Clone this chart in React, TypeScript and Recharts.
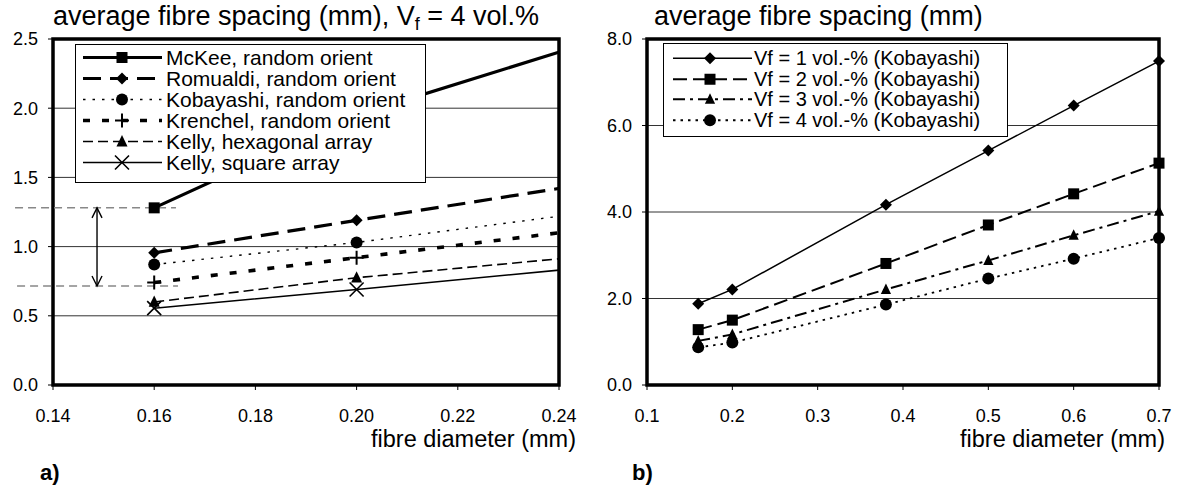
import React from "react";
import {
  LineChart,
  Line,
  XAxis,
  YAxis,
  CartesianGrid,
  ReferenceArea,
  ReferenceLine,
} from "recharts";

// a) Vf = 4 vol.% -- points beyond 0.24 mm are clipped by the axis
const leftDiameters = [0.16, 0.2, 0.38];
const mckee = [1.28, 1.95, 4.0];
const romualdi = [0.955, 1.19, 2.225];
const kobayashiRandom = [0.87, 1.03, 1.88];
const krenchel = [0.74, 0.92, 1.73];
const kellyHex = [0.6, 0.775, 1.39];
const kellySquare = [0.555, 0.69, 1.32];

// b) Kobayashi for several fibre contents
const rightDiameters = [0.16, 0.2, 0.38, 0.5, 0.6, 0.7];
const vf1 = [1.88, 2.21, 4.17, 5.42, 6.46, 7.49];
const vf2 = [1.28, 1.5, 2.81, 3.7, 4.42, 5.13];
const vf3 = [1.02, 1.17, 2.21, 2.88, 3.46, 4.02];
const vf4 = [0.87, 0.98, 1.86, 2.46, 2.92, 3.4];

const leftXTicks = [0.14, 0.16, 0.18, 0.2, 0.22, 0.24];
const leftYTicks = [0, 0.5, 1, 1.5, 2, 2.5];
const rightXTicks = [0.1, 0.2, 0.3, 0.4, 0.5, 0.6, 0.7];
const rightYTicks = [0, 2, 4, 6, 8];

// spread marked on the left chart (McKee vs Krenchel at 0.16 mm)
const spanHigh = 1.28;
const spanLow = 0.715;

const FONT = "'Liberation Sans', Arial, Helvetica, sans-serif";

type Shape = "square" | "diamond" | "circle" | "plus" | "triangle" | "cross";

type Series = {
  key: string;
  name: string;
  values: number[];
  width: number;
  dash?: string;
  marker: Shape;
  size: number;
};

const leftSeries: Series[] = [
  { key: "mckee", name: "McKee, random orient", values: mckee, width: 3.2, marker: "square", size: 11 },
  { key: "romualdi", name: "Romualdi, random orient", values: romualdi, width: 3.2, dash: "18 9", marker: "diamond", size: 12 },
  { key: "kobayashi", name: "Kobayashi, random orient", values: kobayashiRandom, width: 1.4, dash: "2.5 7", marker: "circle", size: 12 },
  { key: "krenchel", name: "Krenchel, random orient", values: krenchel, width: 3.6, dash: "7 12", marker: "plus", size: 14 },
  { key: "kellyHex", name: "Kelly, hexagonal array", values: kellyHex, width: 1.6, dash: "10 5", marker: "triangle", size: 13 },
  { key: "kellySq", name: "Kelly, square array", values: kellySquare, width: 1.6, marker: "cross", size: 14 },
];

const rightSeries: Series[] = [
  { key: "vf1", name: "Vf = 1 vol.-% (Kobayashi)", values: vf1, width: 1.5, marker: "diamond", size: 12 },
  { key: "vf2", name: "Vf = 2 vol.-% (Kobayashi)", values: vf2, width: 2, dash: "14 6", marker: "square", size: 11 },
  { key: "vf3", name: "Vf = 3 vol.-% (Kobayashi)", values: vf3, width: 2, dash: "12 5 3 5", marker: "triangle", size: 12 },
  { key: "vf4", name: "Vf = 4 vol.-% (Kobayashi)", values: vf4, width: 1.8, dash: "2.5 5", marker: "circle", size: 12 },
];

const leftData = leftDiameters.map((d, i) => {
  const row: Record<string, number> = { d };
  leftSeries.forEach((s) => (row[s.key] = s.values[i]));
  return row;
});

const rightData = rightDiameters.map((d, i) => {
  const row: Record<string, number> = { d };
  rightSeries.forEach((s) => (row[s.key] = s.values[i]));
  return row;
});

const Marker = ({ cx, cy, shape, size }: { cx: number; cy: number; shape: Shape; size: number }) => {
  const h = size / 2;
  switch (shape) {
    case "square":
      return <rect x={cx - h} y={cy - h} width={size} height={size} fill="#000" />;
    case "diamond":
      return (
        <polygon
          points={`${cx},${cy - h} ${cx + h},${cy} ${cx},${cy + h} ${cx - h},${cy}`}
          fill="#000"
        />
      );
    case "circle":
      return <circle cx={cx} cy={cy} r={h} fill="#000" />;
    case "triangle":
      return (
        <polygon
          points={`${cx},${cy - h} ${cx + h * 0.85},${cy + h * 0.75} ${cx - h * 0.85},${cy + h * 0.75}`}
          fill="#000"
        />
      );
    case "plus":
      return (
        <path
          d={`M${cx - h},${cy}H${cx + h}M${cx},${cy - h}V${cy + h}`}
          stroke="#000"
          strokeWidth={2}
          fill="none"
        />
      );
    case "cross":
      return (
        <path
          d={`M${cx - h},${cy - h}L${cx + h},${cy + h}M${cx - h},${cy + h}L${cx + h},${cy - h}`}
          stroke="#000"
          strokeWidth={1.6}
          fill="none"
        />
      );
  }
  return null;
};

const dotFor = (s: Series) => (p: any) => {
  if (p.cx == null || p.cy == null) return <g key={`${s.key}-${p.index}`} />;
  return (
    <g key={`${s.key}-${p.index}`}>
      <Marker cx={p.cx} cy={p.cy} shape={s.marker} size={s.size} />
    </g>
  );
};

const ArrowShape = (p: any) => {
  const { x1, y1, x2, y2 } = p;
  const top = Math.min(y1, y2);
  const bottom = Math.max(y1, y2);
  const x = x1 ?? x2;
  return (
    <g stroke="#000" strokeWidth={1.4} fill="none">
      <line x1={x} y1={top} x2={x} y2={bottom} />
      <path d={`M${x - 5},${top + 10}L${x},${top}L${x + 5},${top + 10}`} />
      <path d={`M${x - 5},${bottom - 10}L${x},${bottom}L${x + 5},${bottom - 10}`} />
    </g>
  );
};

type LegendProps = {
  series: Series[];
  left: number;
  top: number;
  width: number;
  height: number;
  rowHeight: number;
  padTop: number;
  fontSize: number;
  sampleWidth: number;
  lineFrom: number;
  lineTo: number;
  markerAt: number;
};

const LegendBox = (p: LegendProps) => (
  <div
    style={{
      position: "absolute",
      left: p.left,
      top: p.top,
      width: p.width,
      height: p.height,
      boxSizing: "border-box",
      border: "1.5px solid #000",
      background: "#fff",
      paddingTop: p.padTop,
      fontFamily: FONT,
      fontSize: p.fontSize,
      color: "#000",
    }}
  >
    {p.series.map((s) => (
      <div
        key={s.key}
        style={{ display: "flex", alignItems: "center", height: p.rowHeight, whiteSpace: "nowrap" }}
      >
        <svg width={p.sampleWidth} height={p.rowHeight} style={{ flex: "none", overflow: "visible" }}>
          <line
            x1={p.lineFrom}
            x2={p.lineTo}
            y1={p.rowHeight / 2}
            y2={p.rowHeight / 2}
            stroke="#000"
            strokeWidth={s.width}
            strokeDasharray={s.dash}
          />
          <Marker cx={p.markerAt} cy={p.rowHeight / 2} shape={s.marker} size={s.size} />
        </svg>
        <span style={{ lineHeight: `${p.rowHeight}px` }}>{s.name}</span>
      </div>
    ))}
  </div>
);

const tickStyle = { fill: "#000", fontSize: 18, fontFamily: FONT };

const App = () => (
  <div style={{ position: "absolute", left: 0, top: 0, width: 1179, height: 488, background: "#fff" }}>
    <div style={{ position: "absolute", left: 0, top: 0 }}>
      <LineChart width={590} height={488} data={leftData} margin={{ top: 39, right: 31, left: 0, bottom: 73 }}>
        <CartesianGrid horizontal vertical={false} stroke="#333" />
        <XAxis
          dataKey="d"
          type="number"
          domain={[0.14, 0.24]}
          allowDataOverflow
          ticks={leftXTicks}
          interval={0}
          tickFormatter={(v: number) => v.toFixed(2)}
          axisLine={false}
          tickLine={{ stroke: "#000" }}
          tickSize={5}
          tickMargin={19}
          height={30}
          tick={tickStyle}
        />
        <YAxis
          type="number"
          domain={[0, 2.5]}
          allowDataOverflow
          ticks={leftYTicks}
          interval={0}
          tickFormatter={(v: number) => v.toFixed(1)}
          axisLine={false}
          tickLine={{ stroke: "#000" }}
          tickSize={5}
          tickMargin={10}
          width={53}
          tick={tickStyle}
        />
        <ReferenceLine
          segment={[{ x: 0.1325, y: spanHigh }, { x: 0.1643, y: spanHigh }]}
          stroke="#888"
          strokeWidth={1.5}
          strokeDasharray="8 5"
          ifOverflow="visible"
        />
        <ReferenceLine
          segment={[{ x: 0.1329, y: spanLow }, { x: 0.1647, y: spanLow }]}
          stroke="#888"
          strokeWidth={1.5}
          strokeDasharray="8 5"
          ifOverflow="visible"
        />
        <ReferenceLine
          segment={[{ x: 0.1487, y: spanLow }, { x: 0.1487, y: spanHigh }]}
          ifOverflow="visible"
          shape={ArrowShape}
        />
        {leftSeries.map((s) => (
          <Line
            key={s.key}
            dataKey={s.key}
            name={s.name}
            stroke="#000"
            strokeWidth={s.width}
            strokeDasharray={s.dash}
            dot={dotFor(s)}
            activeDot={false}
            isAnimationActive={false}
          />
        ))}
        <ReferenceArea
          x1={0.14}
          x2={0.24}
          y1={0}
          y2={2.5}
          fill="none"
          fillOpacity={0}
          stroke="#000"
          strokeWidth={3.5}
          ifOverflow="visible"
        />
      </LineChart>
    </div>

    <div style={{ position: "absolute", left: 590, top: 0 }}>
      <LineChart width={589} height={488} data={rightData} margin={{ top: 39, right: 20, left: 0, bottom: 73 }}>
        <CartesianGrid horizontal vertical={false} stroke="#333" />
        <XAxis
          dataKey="d"
          type="number"
          domain={[0.1, 0.7]}
          ticks={rightXTicks}
          interval={0}
          tickFormatter={(v: number) => v.toFixed(1)}
          axisLine={false}
          tickLine={{ stroke: "#000" }}
          tickSize={5}
          tickMargin={19}
          height={30}
          tick={tickStyle}
        />
        <YAxis
          type="number"
          domain={[0, 8]}
          ticks={rightYTicks}
          interval={0}
          tickFormatter={(v: number) => v.toFixed(1)}
          axisLine={false}
          tickLine={{ stroke: "#000" }}
          tickSize={5}
          tickMargin={10}
          width={57}
          tick={tickStyle}
        />
        <ReferenceArea
          x1={0.1}
          x2={0.7}
          y1={0}
          y2={8}
          fill="none"
          fillOpacity={0}
          stroke="#000"
          strokeWidth={3.5}
          ifOverflow="visible"
        />
        {rightSeries.map((s) => (
          <Line
            key={s.key}
            dataKey={s.key}
            name={s.name}
            stroke="#000"
            strokeWidth={s.width}
            strokeDasharray={s.dash}
            dot={dotFor(s)}
            activeDot={false}
            isAnimationActive={false}
          />
        ))}
      </LineChart>
    </div>

    <LegendBox
      series={leftSeries}
      left={75}
      top={44}
      width={351}
      height={139}
      rowHeight={21}
      padTop={2}
      fontSize={21}
      sampleWidth={90}
      lineFrom={7}
      lineTo={86}
      markerAt={46}
    />
    <LegendBox
      series={rightSeries}
      left={663}
      top={43}
      width={345}
      height={94}
      rowHeight={20.5}
      padTop={4}
      fontSize={20}
      sampleWidth={90}
      lineFrom={9}
      lineTo={88}
      markerAt={46}
    />

    <svg
      width={1179}
      height={488}
      style={{ position: "absolute", left: 0, top: 0, pointerEvents: "none" }}
      fontFamily={FONT}
    >
      <text x={53} y={25} fontSize={27} fill="#000">
        average fibre spacing (mm), V
        <tspan fontSize={18} dy={5}>f</tspan>
        <tspan dy={-5}> = 4 vol.%</tspan>
      </text>
      <text x={654} y={25} fontSize={27} fill="#000">
        average fibre spacing (mm)
      </text>
      <text x={576} y={447} fontSize={23.5} fill="#000" textAnchor="end">
        fibre diameter (mm)
      </text>
      <text x={1165} y={447} fontSize={23.5} fill="#000" textAnchor="end">
        fibre diameter (mm)
      </text>
      <text x={40} y={480} fontSize={22} fontWeight="bold" fill="#000">
        a)
      </text>
      <text x={632} y={480} fontSize={22} fontWeight="bold" fill="#000">
        b)
      </text>
    </svg>
  </div>
);

export default App;
